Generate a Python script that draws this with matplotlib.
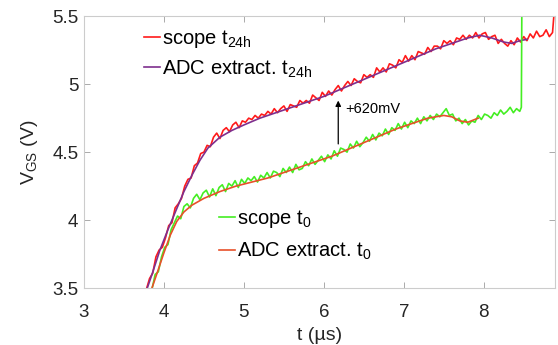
import numpy as np
import matplotlib
matplotlib.use('Agg')
import matplotlib.pyplot as plt

plt.rcParams['font.family'] = ['Liberation Sans', 'DejaVu Sans']
plt.rcParams['mathtext.default'] = 'regular'

# scope t24h trace (sampled every 0.04 us from 3.78 us)
red_t0 = 3.78
red_dt = 0.04
red_v = [3.49, 3.57, 3.61, 3.73, 3.78, 3.80, 3.87, 3.96, 3.98, 4.09,
         4.12, 4.16, 4.25, 4.30, 4.31, 4.40, 4.42, 4.49, 4.50, 4.55,
         4.54, 4.61, 4.64, 4.60, 4.66, 4.68, 4.65, 4.70, 4.72, 4.68,
         4.73, 4.72, 4.75, 4.74, 4.77, 4.75, 4.78, 4.77, 4.80, 4.78,
         4.82, 4.79, 4.82, 4.84, 4.80, 4.85, 4.84, 4.83, 4.88, 4.86,
         4.88, 4.86, 4.92, 4.90, 4.88, 4.94, 4.91, 4.95, 4.92, 4.96,
         4.99, 4.95, 4.99, 5.02, 4.99, 5.04, 5.02, 5.01, 5.07, 5.05,
         5.07, 5.05, 5.12, 5.09, 5.12, 5.09, 5.15, 5.14, 5.12, 5.18,
         5.16, 5.21, 5.17, 5.21, 5.18, 5.24, 5.23, 5.22, 5.27, 5.24,
         5.28, 5.28, 5.26, 5.32, 5.30, 5.32, 5.29, 5.34, 5.33, 5.36,
         5.33, 5.36, 5.34, 5.38, 5.34, 5.37, 5.38, 5.33, 5.35, 5.36,
         5.30, 5.33, 5.30, 5.28, 5.32, 5.29, 5.34, 5.31, 5.35, 5.32,
         5.37, 5.34, 5.39, 5.35, 5.36, 5.40, 5.35, 5.38]
red_tail_t = [8.875]
red_tail_v = [5.49]

# ADC extraction t24h
adc24_t = [3.78, 3.85, 3.95, 4.05, 4.15, 4.25, 4.35, 4.45, 4.55, 4.7, 4.85,
           5.0, 5.2, 5.4, 5.6, 5.8, 6.0, 6.2, 6.4, 6.6, 6.8, 7.0, 7.2, 7.4,
           7.6, 7.8, 7.95, 8.1, 8.25, 8.35, 8.45, 8.54]
adc24_v = [3.48, 3.60, 3.78, 3.93, 4.07, 4.21, 4.33, 4.44, 4.53, 4.61, 4.66,
           4.70, 4.75, 4.79, 4.83, 4.87, 4.91, 4.96, 5.01, 5.06, 5.11, 5.16,
           5.21, 5.26, 5.30, 5.34, 5.36, 5.34, 5.31, 5.30, 5.32, 5.33]

# scope t0 trace (sampled every 0.04 us from 3.85 us)
grn_t0 = 3.85
grn_dt = 0.04
grn_v = [3.49, 3.60, 3.62, 3.73, 3.80, 3.82, 3.93, 3.98, 4.03, 4.01,
         4.10, 4.12, 4.09, 4.16, 4.19, 4.15, 4.20, 4.22, 4.17, 4.23,
         4.18, 4.24, 4.26, 4.21, 4.27, 4.25, 4.29, 4.24, 4.30, 4.27,
         4.31, 4.29, 4.32, 4.28, 4.33, 4.31, 4.35, 4.31, 4.36, 4.35,
         4.32, 4.38, 4.35, 4.39, 4.35, 4.41, 4.37, 4.38, 4.43, 4.40,
         4.45, 4.41, 4.44, 4.47, 4.43, 4.48, 4.45, 4.51, 4.47, 4.53,
         4.52, 4.50, 4.56, 4.53, 4.58, 4.54, 4.57, 4.61, 4.58, 4.63,
         4.59, 4.64, 4.62, 4.67, 4.63, 4.68, 4.66, 4.71, 4.67, 4.72,
         4.68, 4.73, 4.71, 4.75, 4.71, 4.76, 4.73, 4.77, 4.74, 4.78,
         4.76, 4.79, 4.82, 4.77, 4.78, 4.73, 4.75, 4.71, 4.74, 4.70,
         4.73, 4.72, 4.77, 4.74, 4.78, 4.77, 4.75, 4.79, 4.77, 4.81,
         4.78, 4.80, 4.83, 4.79, 4.82, 4.80]
grn_tail_t = [8.47, 8.48]
grn_tail_v = [4.83, 6.00]

# ADC extraction t0
adc0_t = [3.85, 3.92, 4.0, 4.08, 4.16, 4.25, 4.35, 4.5, 4.7, 4.9, 5.1, 5.3,
          5.5, 5.7, 5.9, 6.1, 6.3, 6.5, 6.7, 6.9, 7.1, 7.3, 7.5, 7.6, 7.7,
          7.8, 7.93]
adc0_v = [3.50, 3.62, 3.76, 3.89, 3.99, 4.06, 4.11, 4.16, 4.21, 4.25, 4.28,
          4.31, 4.35, 4.39, 4.43, 4.47, 4.52, 4.57, 4.62, 4.67, 4.71, 4.75,
          4.77, 4.76, 4.73, 4.72, 4.75]

shift_t = 6.18
shift_from = 4.54
shift_to = 4.90
shift_label = '+620mV'

red_t = np.concatenate([red_t0 + red_dt * np.arange(len(red_v)), red_tail_t])
red_y = np.concatenate([red_v, red_tail_v])
grn_t = np.concatenate([grn_t0 + grn_dt * np.arange(len(grn_v)), grn_tail_t])
grn_y = np.concatenate([grn_v, grn_tail_v])

fig = plt.figure(figsize=(5.58, 3.45), dpi=100)
ax = fig.add_axes([0.1505, 0.165, 0.844, 0.788])

l1, = ax.plot(red_t, red_y, color='#ff1a1a', lw=1.2, label='scope $t_{24h}$')
l2, = ax.plot(adc24_t, adc24_v, color='#7e2f8e', lw=1.2, label='ADC extract. $t_{24h}$')
l3, = ax.plot(grn_t, grn_y, color='#44ee22', lw=1.2, label='scope $t_{0}$')
l4, = ax.plot(adc0_t, adc0_v, color='#e8502a', lw=1.2, label='ADC extract. $t_{0}$')

ax.annotate('', xy=(shift_t, shift_to), xytext=(shift_t, shift_from),
            arrowprops=dict(arrowstyle='-|>', color='black', lw=0.9, mutation_scale=8))
ax.text(shift_t + 0.09, 4.82, shift_label, fontsize=10.5, va='center', ha='left')

ax.set_xlim(3, 8.89)
ax.set_ylim(3.5, 5.5)
ax.set_xticks([3, 4, 5, 6, 7, 8])
ax.set_yticks([3.5, 4, 4.5, 5, 5.5])
ax.set_yticklabels(['3.5', '4', '4.5', '5', '5.5'])
ax.tick_params(direction='in', length=4, width=0.7, color='#aaaaaa',
               labelsize=13.5, labelcolor='#262626', top=True, right=True)
ax.tick_params(axis='x', pad=11.5)
ax.tick_params(axis='y', pad=4)
for s in ax.spines.values():
    s.set_color('#cccccc')
    s.set_linewidth(0.8)

ax.set_xlabel('t (µs)', fontsize=14, color='#262626', labelpad=4)
ax.set_ylabel('$V_{GS}$ (V)', fontsize=14, color='#262626', labelpad=9)

leg1 = ax.legend(handles=[l1, l2], loc='upper left', bbox_to_anchor=(0.11, 0.985),
                 frameon=False, fontsize=14.5, handlelength=0.8, handletextpad=0.1,
                 labelspacing=0.4, borderaxespad=0)
ax.add_artist(leg1)
ax.legend(handles=[l3, l4], loc='upper left', bbox_to_anchor=(0.27, 0.325),
          frameon=False, fontsize=14.5, handlelength=0.8, handletextpad=0.1,
          labelspacing=0.55, borderaxespad=0)

fig.savefig('out.png', dpi=100)
